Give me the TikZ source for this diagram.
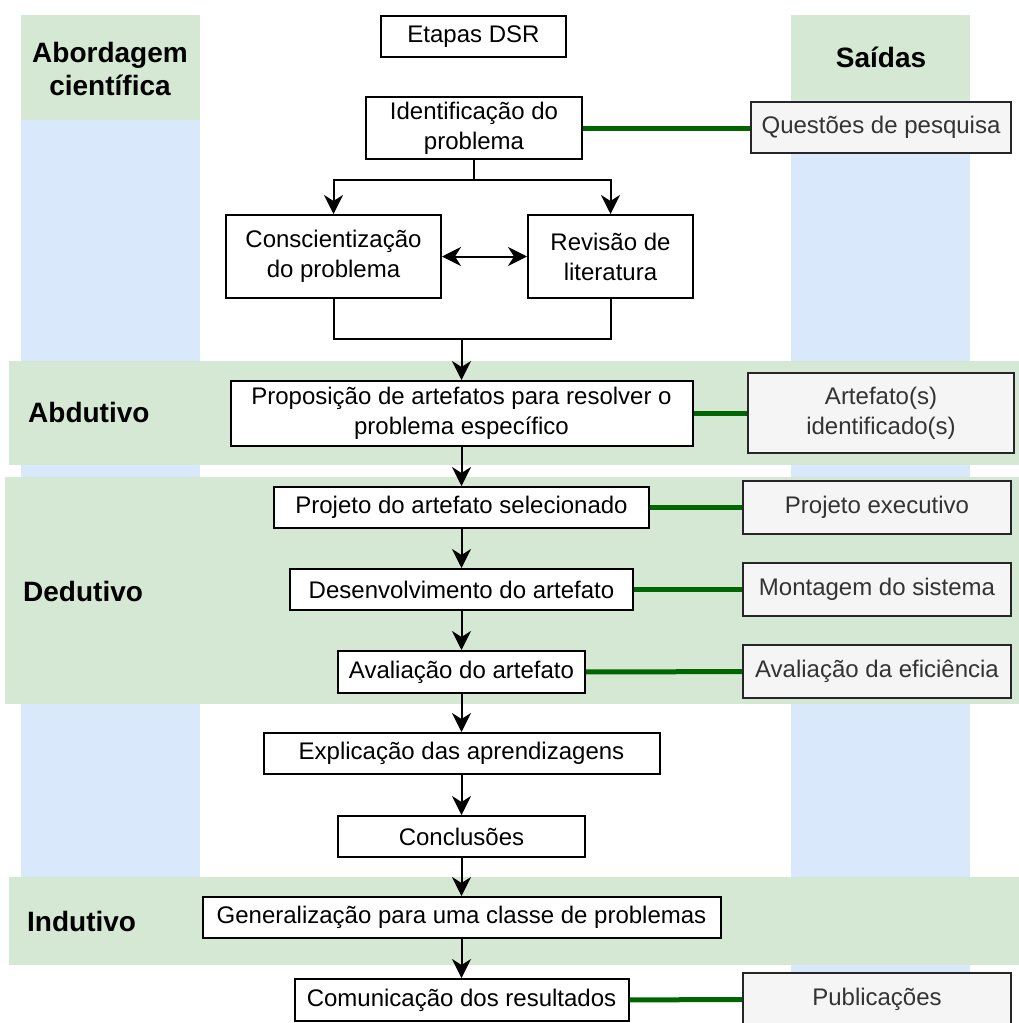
\documentclass[tikz,border=0pt]{standalone}
\usepackage{fontspec}
\setmainfont{Liberation Sans}
\usetikzlibrary{arrows.meta,positioning}
\definecolor{bandgreen}{HTML}{D5E8D4}
\definecolor{colblue}{HTML}{DAE8FC}
\definecolor{linkgreen}{HTML}{006600}
\definecolor{outgrey}{HTML}{F5F5F5}
\definecolor{outtext}{HTML}{333333}

\begin{document}
\begin{tikzpicture}[x=1pt, y=-1pt,
        stage/.style = {draw, line width=2pt, fill=white, inner sep=0pt, align=center,
                        font=\fontsize{24}{30}\selectfont},
        saida/.style = {draw=black!85, line width=2pt, fill=outgrey, text=outtext, inner sep=0pt,
                        align=center, minimum width=268pt, font=\fontsize{24}{30}\selectfont},
        titulo/.style = {font=\fontsize{28}{33}\selectfont\bfseries, align=center, inner sep=0pt},
        flow/.style = {line width=2pt, -{Stealth[length=19pt,width=19pt,inset=6pt]}},
        link/.style = {line width=5pt, linkgreen}]
    \useasboundingbox (0,0) rectangle (1019,1023);
    % colunas e faixas
    \fill[colblue] (21,15) rectangle (200,940);
    \fill[bandgreen] (21,15) rectangle (200,120);
    \fill[colblue] (791,15) rectangle (970,1000);
    \fill[bandgreen] (791,15) rectangle (970,100);
    \fill[bandgreen] (9,361) rectangle (1019,465);
    \fill[bandgreen] (5,477) rectangle (1019,704);
    \fill[bandgreen] (9,877) rectangle (1019,965);
    \node [titulo] (abord) at (110,69) {Abordagem\\científica};
    \node [titulo] (saidas) at (881,57) {Saídas};
    \node [titulo, anchor=west] (abdut) at (28,412) {Abdutivo};
    \node [titulo, anchor=west] (dedut) at (23,591) {Dedutivo};
    \node [titulo, anchor=west] (indut) at (27,921) {Indutivo};
    % etapas DSR
    \node [stage, minimum width=185pt, minimum height=41pt] (etapas) at (473.5,36.5) {Etapas DSR};
    \node [stage, minimum width=216pt, minimum height=62pt] (ident) at (474,128) {Identificação do\\problema};
    \node [stage, minimum width=215pt, minimum height=83pt] (consc) at (333.5,256.5) {Conscientização\\do problema};
    \node [stage, minimum width=165pt, minimum height=83pt] (revis) at (610.5,256.5) {Revisão de\\literatura};
    \node [stage, minimum width=462pt, minimum height=65pt] (propo) at (461.5,413.5) {Proposição de artefatos para resolver o\\problema específico};
    \node [stage, minimum width=375pt, minimum height=41pt] (projeto) at (461.5,507.5) {Projeto do artefato selecionado};
    \node [stage, minimum width=343pt, minimum height=41pt] (desenv) at (461.5,589.5) {Desenvolvimento do artefato};
    \node [stage, minimum width=247pt, minimum height=42pt] (avalia) at (461.5,672) {Avaliação do artefato};
    \node [stage, minimum width=396pt, minimum height=41pt] (explic) at (461.5,753.5) {Explicação das aprendizagens};
    \node [stage, minimum width=247pt, minimum height=41pt] (conclu) at (461.5,836.5) {Conclusões};
    \node [stage, minimum width=518pt, minimum height=41pt] (gener) at (461.5,917.5) {Generalização para uma classe de problemas};
    \node [stage, minimum width=334pt, minimum height=42pt] (comun) at (461.5,1000) {Comunicação dos resultados};
    % saidas
    \node [saida, minimum width=260pt, minimum height=51pt] (questoes) at (881,127.5) {Questões de pesquisa};
    \node [saida, minimum width=266pt, minimum height=80pt] (artef) at (881,413) {Artefato(s)\\identificado(s)};
    \node [saida, minimum height=53pt] (projex) at (877,507.5) {Projeto executivo};
    \node [saida, minimum height=53pt] (montag) at (877,589.5) {Montagem do sistema};
    \node [saida, minimum height=53pt] (aveff) at (877,671.5) {Avaliação da eficiência};
    \node [saida, minimum height=53pt] (public) at (877,999.5) {Publicações};
    % fluxo
    \draw [flow] (ident.south) -- ++(0,20) -| (consc.north);
    \draw [flow] (ident.south) -- ++(0,20) -| (revis.north);
    \draw [flow, {Stealth[length=19pt,width=19pt,inset=6pt]}-{Stealth[length=19pt,width=19pt,inset=6pt]}] (consc) -- (revis);
    \coordinate (junta) at (461.5,339);
    \draw [line width=2pt] (consc.south) |- (junta) -| (revis.south);
    \draw [flow] (junta) -- (propo.north);
    \draw [flow] (propo) -- (projeto);
    \draw [flow] (projeto) -- (desenv);
    \draw [flow] (desenv) -- (avalia);
    \draw [flow] (avalia) -- (explic);
    \draw [flow] (explic) -- (conclu);
    \draw [flow] (conclu) -- (gener);
    \draw [flow] (gener) -- (comun);
    % ligacoes com as saidas
    \draw [link] (ident.east) -- (ident.east -| questoes.west);
    \draw [link] (propo.east) -- (propo.east -| artef.west);
    \draw [link] (projeto) -- (projex);
    \draw [link] (desenv.east) -- (desenv.east -| montag.west);
    \draw [link] (avalia) -- (aveff);
    \draw [link] (comun) -- (public);
\end{tikzpicture}
\end{document}
